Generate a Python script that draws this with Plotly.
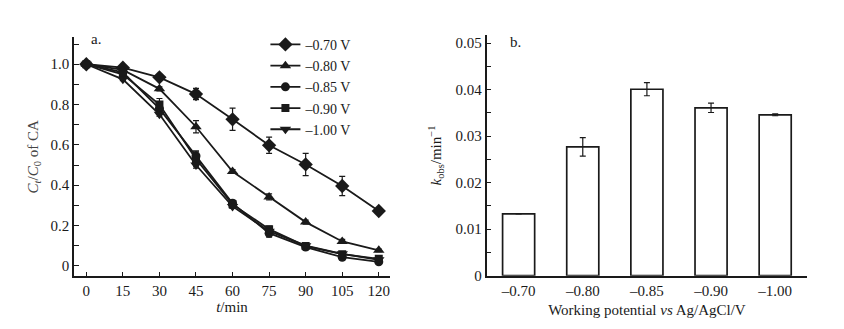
import plotly.graph_objects as go

# ---- Panel a data ----
time_min = [0, 15, 30, 45, 60, 75, 90, 105, 120]
series_names = ["–0.70 V", "–0.80 V", "–0.85 V", "–0.90 V", "–1.00 V"]
v_070 = [1.000, 0.983, 0.935, 0.852, 0.727, 0.598, 0.503, 0.396, 0.272]
e_070 = [0.006, 0.006, 0.010, 0.028, 0.055, 0.040, 0.055, 0.048, 0.008]
v_080 = [1.000, 0.972, 0.878, 0.690, 0.468, 0.342, 0.217, 0.121, 0.077]
e_080 = [0.006, 0.006, 0.010, 0.030, 0.010, 0.015, 0.010, 0.010, 0.006]
v_085 = [1.000, 0.960, 0.780, 0.545, 0.310, 0.162, 0.093, 0.043, 0.020]
e_085 = [0.006, 0.006, 0.020, 0.025, 0.015, 0.020, 0.010, 0.008, 0.008]
v_090 = [1.000, 0.950, 0.800, 0.530, 0.305, 0.182, 0.098, 0.058, 0.035]
e_090 = [0.006, 0.006, 0.030, 0.035, 0.020, 0.015, 0.008, 0.008, 0.008]
v_100 = [1.000, 0.925, 0.752, 0.500, 0.295, 0.172, 0.100, 0.060, 0.030]
e_100 = [0.006, 0.006, 0.010, 0.015, 0.010, 0.010, 0.008, 0.008, 0.006]
y_ticks_a = [0, 0.2, 0.4, 0.6, 0.8, 1.0]
y_ticktext_a = ["0", "0.2", "0.4", "0.6", "0.8", "1.0"]

# ---- Panel b data ----
potentials = ["–0.70", "–0.80", "–0.85", "–0.90", "–1.00"]
k_obs = [0.0133, 0.0277, 0.0401, 0.0361, 0.0346]
k_err = [0.0, 0.0020, 0.0014, 0.0010, 0.0002]
y_ticks_b = [0, 0.01, 0.02, 0.03, 0.04, 0.05]
y_ticktext_b = ["0", "0.01", "0.02", "0.03", "0.04", "0.05"]

FONT = "Liberation Serif"
INK = "#1a1a1a"
symbols = ["diamond", "triangle-up", "circle", "square", "triangle-down"]
sizes = [11, 10, 9, 8, 10]
vals = [v_070, v_080, v_085, v_090, v_100]
errs = [e_070, e_080, e_085, e_090, e_100]

fig = go.Figure()
for name, sym, sz, v, e in zip(series_names, symbols, sizes, vals, errs):
    fig.add_trace(go.Scatter(
        x=time_min, y=v, name=name, mode="lines+markers",
        line=dict(color=INK, width=1.8),
        marker=dict(symbol=sym, size=sz, color=INK),
        error_y=dict(type="data", array=e, visible=True, color=INK, thickness=1.2, width=3),
        xaxis="x", yaxis="y",
    ))

fig.add_trace(go.Bar(
    x=potentials, y=k_obs, width=0.5, showlegend=False,
    marker=dict(color="white", line=dict(color=INK, width=1.7)),
    error_y=dict(type="data", array=k_err, visible=True, color=INK, thickness=1.2, width=3),
    xaxis="x2", yaxis="y2",
))

axis_common = dict(showline=True, linecolor=INK, linewidth=1.7, showgrid=False, zeroline=False,
                   ticks="inside", tickcolor=INK, tickwidth=1.2, ticklen=5,
                   tickfont=dict(family=FONT, size=15, color=INK), mirror=False)

fig.update_layout(
    width=844, height=329, margin=dict(l=0, r=0, t=0, b=0),
    paper_bgcolor="white", plot_bgcolor="white",
    font=dict(family=FONT, size=15, color=INK),
    showlegend=True,
    legend=dict(x=0.305, y=0.935, xanchor="left", yanchor="top", bgcolor="rgba(0,0,0,0)",
                font=dict(family=FONT, size=14, color=INK), tracegroupgap=0, itemwidth=30),
    xaxis=dict(domain=[0.0782, 0.4526], range=[-5.05, 124.6], tickvals=time_min, anchor="y",
               title=dict(text="<i>t</i>/min", standoff=3, font=dict(family=FONT, size=15)),
               **axis_common),
    yaxis=dict(domain=[0.164, 0.909], range=[-0.052, 1.134], tickvals=y_ticks_a, ticktext=y_ticktext_a,
               anchor="x",
               minor=dict(dtick=0.1, ticks="inside", ticklen=5, tickcolor=INK, tickwidth=1.2),
               title=dict(text="<i>C</i><sub><i>t</i></sub>/<i>C</i><sub>0</sub> of CA", standoff=8,
                          font=dict(family=FONT, size=15, color="#444")),
               **axis_common),
    xaxis2=dict(domain=[0.567, 0.947], range=[-0.5, 4.5], type="category", anchor="y2",
                title=dict(text="Working potential <i>vs</i> Ag/AgCl/V", standoff=7, font=dict(family=FONT, size=15)),
                **{**axis_common, "ticks": ""}),
    yaxis2=dict(domain=[0.166, 0.915], range=[0, 0.0517], tickvals=y_ticks_b, ticktext=y_ticktext_b,
                anchor="x2",
                minor=dict(dtick=0.005, ticks="inside", ticklen=5, tickcolor=INK, tickwidth=1.2),
                title=dict(text="<i>k</i><sub>obs</sub>/min<sup>−1</sup>", standoff=10, font=dict(family=FONT, size=15)),
                **axis_common),
    annotations=[
        dict(text="a.", x=0.096, y=0.903, xref="paper", yref="paper", xanchor="left", yanchor="middle",
             showarrow=False, font=dict(family=FONT, size=15, color=INK)),
        dict(text="b.", x=0.593, y=0.894, xref="paper", yref="paper", xanchor="left", yanchor="middle",
             showarrow=False, font=dict(family=FONT, size=15, color=INK)),
    ],
)

fig.write_html("out.html")
